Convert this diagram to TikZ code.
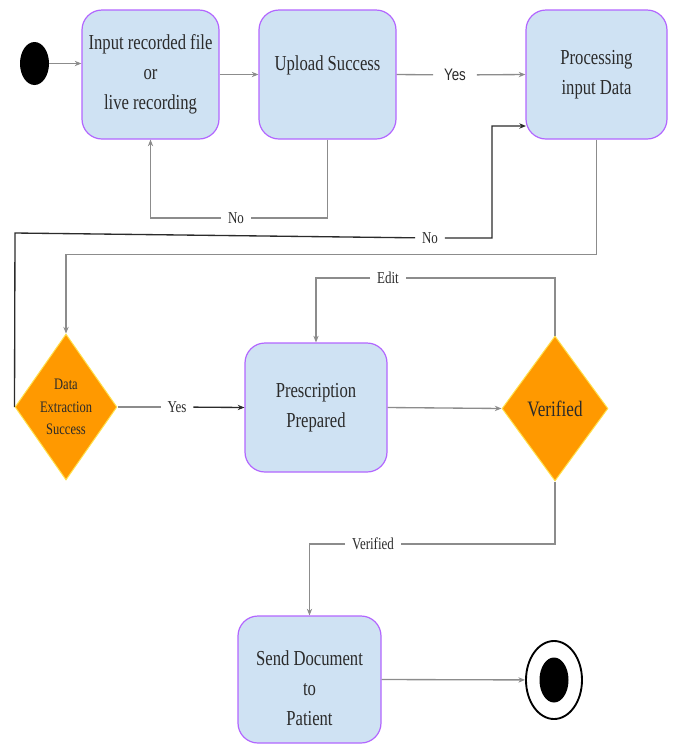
\documentclass[tikz,border=0pt]{standalone}
\usepackage{fontspec}
\usepackage{xcolor}
\setmainfont[FakeStretch=0.78]{Liberation Serif}
\newfontfamily\yessans[FakeStretch=0.8]{Liberation Sans}
\usetikzlibrary{shapes.geometric,arrows.meta}

\definecolor{stateblue}{HTML}{CFE2F3}
\definecolor{stateline}{HTML}{B266FF}
\definecolor{choiceorange}{HTML}{FF9900}
\definecolor{choiceline}{HTML}{FFE14D}
\definecolor{wiregray}{HTML}{8C8C8C}
\definecolor{wiredark}{HTML}{2B2B2B}

\begin{document}
\begin{tikzpicture}[x=0.75pt,y=0.75pt,yscale=-1,xscale=1,
  statebox/.style={draw=stateline,fill=stateblue,line width=0.9pt,rounded corners=15pt,minimum height=96.75pt,inner sep=0pt,align=center,text=wiredark,font=\fontsize{16}{22.5}\selectfont},
  statetext/.style={inner sep=0pt,align=center,text=wiredark,font=\fontsize{16}{22.5}\selectfont},
  choice/.style={diamond,draw=choiceline,fill=choiceorange,line width=0.75pt,aspect=0.7,inner sep=0pt,align=center,text=wiredark},
  lbl/.style={inner xsep=5pt,inner ysep=1pt,text=wiredark,font=\fontsize{12.5}{14}\selectfont},
  wire/.style={draw=wiregray,line width=1pt},
  flow/.style={wire,-{Stealth[length=5pt,width=4pt]}},
  flowdark/.style={draw=wiredark,line width=1pt,-{Stealth[length=5pt,width=4pt]}}
]

\useasboundingbox (0,0) rectangle (674,744);


\node [ellipse,fill=black,minimum width=21.75pt,minimum height=32.25pt,inner sep=0pt] (start) at (34.5,63.5) {};

\node [statebox,minimum width=102.75pt] (input) at (150.5,74.5) {Input recorded file\\or\\live recording};

\node [statebox,minimum width=102.75pt] (upload) at (327.5,74.5) {};

\node [statetext] (uploadtxt) at (327.5,65) {Upload Success};

\node [statebox,minimum width=105.75pt] (process) at (596.5,74.5) {Processing\\input Data};

\node [choice,minimum width=76.5pt,minimum height=109.5pt,font=\fontsize{12}{17}\selectfont] (extract) at (66,407) {Data\\Extraction\\Success};

\node [statebox,minimum width=106.5pt] (prep) at (316,407.5) {Prescription\\Prepared};

\node [choice,minimum width=79.5pt,minimum height=108.75pt,font=\fontsize{16.5}{18}\selectfont] (verify) at (555,408.5) {Verified};

\node [statebox,minimum width=107.25pt,minimum height=95.25pt] (send) at (309.5,679.5) {};

\node [statetext] (sendtxt) at (309.5,688.5) {Send Document\\to\\Patient};

\node [ellipse,draw=black,line width=1.4pt,fill=white,minimum width=42pt,minimum height=58.5pt,inner sep=0pt] (final) at (554,680) {};

\fill [black] (final.center) ellipse [x radius=14.5,y radius=22.5];


\node [lbl,inner xsep=8pt,font=\yessans\fontsize{12.5}{14}\selectfont] (yesup) at (455,75) {Yes};

\node [lbl] (noup) at (236,218) {No};

\node [lbl] (noproc) at (430,238) {No};

\node [lbl] (yesext) at (177,407) {Yes};

\node [lbl] (edit) at (388,278) {Edit};

\node [lbl] (verok) at (373,544) {Verified};

\coordinate (nocorner) at (15,233);

\coordinate (nojog) at (492,126);

\coordinate (procin) at (526,126);


\draw [flow] (start.east) -- (start.east -| input.west);

\draw [flow] (input.east) -- (upload.west);

\draw [flow] (upload.east) -- (yesup) -- (process.west);

\draw [flow] (upload.south) |- (noup) -| (input.south);

\draw [flowdark] (extract.west) -- (nocorner) -- (noproc) -| (nojog) -- (procin);

\draw [flow] (process.south) -- ++(0,115) -| (extract.north);

\draw [wire] (extract.east) -- (yesext);

\draw [flowdark] (yesext) -- (prep.west);

\draw [flow] (prep.east) -- (verify.west);

\draw [flow] (verify.north) |- (edit) -| (prep.north);

\draw [flow] (verify.south) |- (verok) -| (send.north);

\draw [flow] (send.east) -- (final);


\end{tikzpicture}
\end{document}
